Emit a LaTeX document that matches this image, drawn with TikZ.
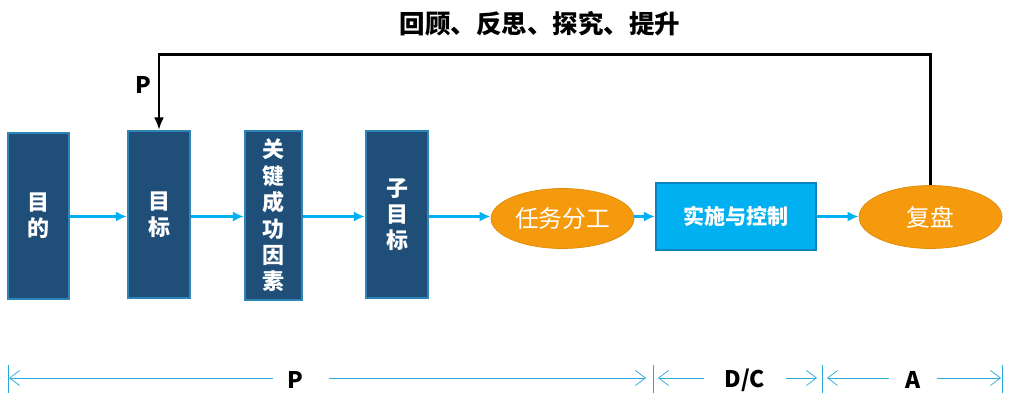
\documentclass[tikz,border=0pt]{standalone}
\usepackage{fontspec}
\usepackage{xcolor}
\usepackage{tikz}
\usetikzlibrary{shapes.geometric, arrows.meta, positioning, calc}
\newfontfamily\cjk{Noto Sans CJK SC}
\definecolor{pdnavy}{HTML}{1F4E79}
\definecolor{pdedge}{HTML}{2E86B8}
\definecolor{pdcyan}{HTML}{00B0F0}
\definecolor{pdcyanedge}{HTML}{0A84BF}
\definecolor{pdorange}{HTML}{F59A0C}
\definecolor{pddim}{HTML}{2AAAD6}
\tikzset{
  blk/.style={rectangle, draw=pdedge, line width=1.2pt, fill=pdnavy,
    text=white, align=center, font=\cjk\bfseries\fontsize{12.5}{15}\selectfont,
    inner sep=0pt},
  oval/.style={ellipse, fill=pdorange, draw=pdorange!90!black, thin,
    text=white, font=\cjk\fontsize{13.5}{16}\selectfont, inner sep=0pt},
  ctrl/.style={rectangle, draw=pdcyanedge, line width=1.2pt, fill=pdcyan,
    text=white, font=\cjk\bfseries\fontsize{12}{14}\selectfont, inner sep=0pt},
  lbl/.style={font=\cjk\bfseries\fontsize{13}{15}\selectfont},
  flow/.style={-{Latex[length=2.2mm, width=2mm]}, line width=1.5pt, pdcyan},
  fb/.style={-{Latex[length=2.5mm, width=2mm]}, line width=1.6pt, black},
  dim/.style={{Straight Barb[length=2mm, width=3mm]}-{Straight Barb[length=2mm, width=3mm]},
    thin, pddim},
}

\begin{document}
\begin{tikzpicture}
\useasboundingbox (0,0) rectangle (20.2,-8.14);

% ---- P stage ----
\node[blk, minimum width=1.22cm, minimum height=3.32cm] (mudi) at (0.77,-4.32) {目\\的};
\node[blk, minimum width=1.24cm, minimum height=3.34cm] (mubiao) at (3.18,-4.29) {目\\标};
\node[blk, minimum width=1.14cm, minimum height=3.38cm] (guanjian) at (5.47,-4.31) {关\\键\\成\\功\\因\\素};
\node[blk, minimum width=1.24cm, minimum height=3.34cm] (zimubiao) at (7.94,-4.29) {子\\目\\标};
\node[oval, minimum width=2.86cm, minimum height=1.2cm] (renwu) at (11.25,-4.37) {任务分工};

% ---- D/C and A ----
\node[ctrl, minimum width=3.2cm, minimum height=1.34cm] (shishi) at (14.72,-4.33) {实施与控制};
\node[oval, minimum width=2.86cm, minimum height=1.26cm] (fupan) at (18.61,-4.34) {复盘};

% ---- flow ----
\draw[flow] (mudi.east |- 0,-4.33) -- (mubiao.west |- 0,-4.33);
\draw[flow] (mubiao.east |- 0,-4.33) -- (guanjian.west |- 0,-4.33);
\draw[flow] (guanjian.east |- 0,-4.33) -- (zimubiao.west |- 0,-4.33);
\draw[flow] (zimubiao.east |- 0,-4.33) -- (renwu.west |- 0,-4.33);
\draw[flow] (renwu.east |- 0,-4.33) -- (shishi.west |- 0,-4.33);
\draw[flow] (shishi.east |- 0,-4.33) -- (fupan.west |- 0,-4.33);

% ---- feedback loop ----
\coordinate (topy) at (0,-1.09);
\draw[fb] (fupan.north) -- (fupan.north |- topy) -- (mubiao.north |- topy) -- (mubiao.north);
\node[lbl] (fbp) at (2.86,-1.7) {P};
\node[lbl, font=\cjk\bfseries\fontsize{14.5}{17}\selectfont] (title) at (10.8,-0.48) {回顾、反思、探究、提升};

% ---- phase ruler ----
\coordinate (t0) at (0.16,-7.56);
\coordinate (t1) at (13.06,-7.56);
\coordinate (t2) at (16.44,-7.56);
\coordinate (t3) at (20.04,-7.56);
\foreach \t in {t0,t1,t2,t3}
  \draw[pddim, thin] ($(\t)+(0,0.26)$) -- ($(\t)+(0,-0.3)$);
\node[lbl] (pp) at (5.9,-7.6) {P};
\node[lbl] (dc) at (14.9,-7.6) {D/C};
\node[lbl] (aa) at (18.26,-7.6) {A};
\draw[dim] ($(t0)+(0.02,0)$) -- ($(t1)+(-0.14,0)$);
\draw[dim] ($(t1)+(0.1,0)$) -- ($(t2)+(-0.1,0)$);
\draw[dim] ($(t2)+(0.1,0)$) -- ($(t3)+(-0.02,0)$);
\fill[white] (pp.west) ++(-0.15,0.25) rectangle ($(pp.east)+(0.4,-0.25)$);
\fill[white] (dc.west) ++(-0.3,0.25) rectangle ($(dc.east)+(0.3,-0.25)$);
\fill[white] (aa.west) ++(-0.2,0.25) rectangle ($(aa.east)+(0.2,-0.25)$);
\node[lbl] at (pp) {P};
\node[lbl] at (dc) {D/C};
\node[lbl] at (aa) {A};

\end{tikzpicture}
\end{document}
